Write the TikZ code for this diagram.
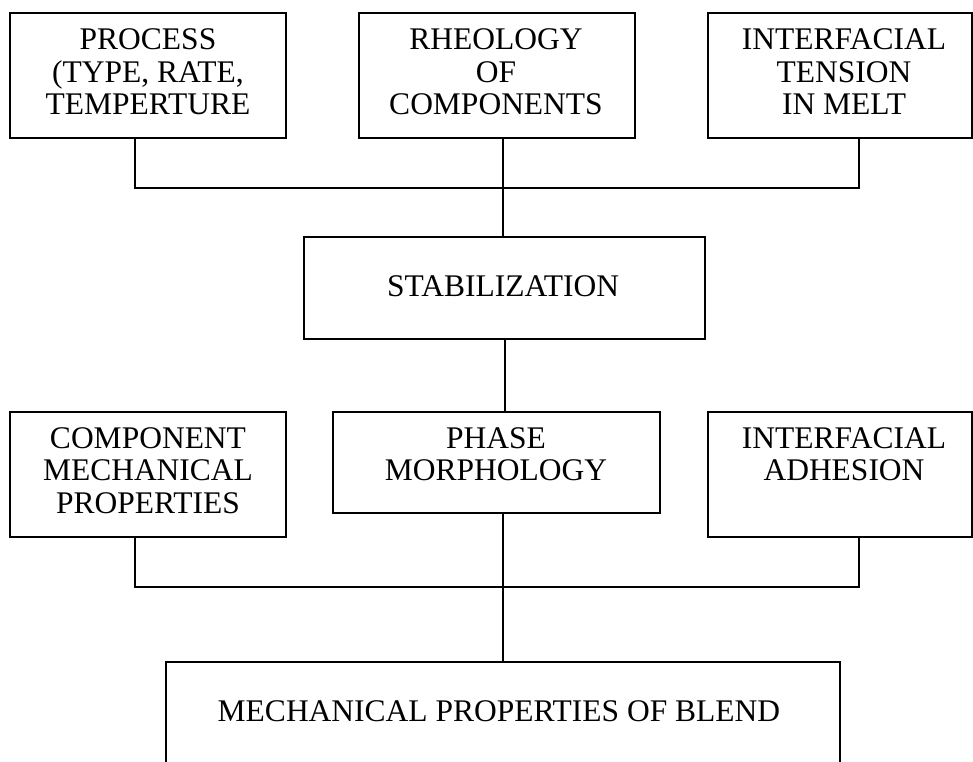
\documentclass[tikz,border=0pt]{standalone}
\usepackage{fontspec}
\setmainfont{Liberation Serif}
\begin{document}
\begin{tikzpicture}[x=1pt,y=-1pt,
  box/.style={draw, line width=1.5pt, rectangle, inner sep=0pt},
  txt/.style={anchor=north, inner sep=0pt, align=center,
    font=\fontsize{31.5}{32.8}\selectfont},
  conn/.style={line width=1.5pt}]
\useasboundingbox[fill=white] (0,0) rectangle (973,761);
% boxes
\node[box, minimum width=276pt, minimum height=125pt] (b1) at (148,75.5) {};
\node[box, minimum width=276pt, minimum height=125pt] (b2) at (497,75.5) {};
\node[box, minimum width=264pt, minimum height=125pt] (b3) at (840,75.5) {};
\node[box, minimum width=401pt, minimum height=102pt] (stab) at (504.5,288) {};
\node[box, minimum width=276pt, minimum height=125pt] (comp) at (148,474.5) {};
\node[box, minimum width=327pt, minimum height=101pt] (phase) at (496.5,462.5) {};
\node[box, minimum width=264pt, minimum height=125pt] (adh) at (840,474.5) {};
\node[box, minimum width=674pt, minimum height=140pt] (blend) at (503,732) {};
% texts
\node[txt] (t1) at (148,28.3) {PROCESS\\(TYPE, RATE,\\TEMPERTURE};
\node[txt] (t2) at (496,28.3) {RHEOLOGY\\OF\\COMPONENTS};
\node[txt] (t3) at (844,28.3) {INTERFACIAL\\TENSION\\IN MELT};
\node[txt] (t4) at (503,275) {STABILIZATION};
\node[txt] (t5) at (148,427) {COMPONENT\\MECHANICAL\\PROPERTIES};
\node[txt] (t6) at (496,427) {PHASE\\MORPHOLOGY};
\node[txt] (t7) at (844,427) {INTERFACIAL\\ADHESION};
\node[txt] (t8) at (499,700) {MECHANICAL PROPERTIES OF BLEND};
% junctions
\coordinate (h1) at (503,188);
\coordinate (h2) at (503,587);
\coordinate (v1) at (505,380);
\coordinate (l1) at (135,188);
\coordinate (r1) at (859,188);
\coordinate (l2) at (135,587);
\coordinate (r2) at (859,587);
% connectors
\draw[conn] (b1.south -| l1) -- (l1) -- (r1) -- (b3.south -| r1);
\draw[conn] (b2.south -| h1) -- (stab.north -| h1);
\draw[conn] (stab.south -| v1) -- (phase.north -| v1);
\draw[conn] (comp.south -| l2) -- (l2) -- (r2) -- (adh.south -| r2);
\draw[conn] (phase.south -| h2) -- (blend.north -| h2);
\end{tikzpicture}
\end{document}
